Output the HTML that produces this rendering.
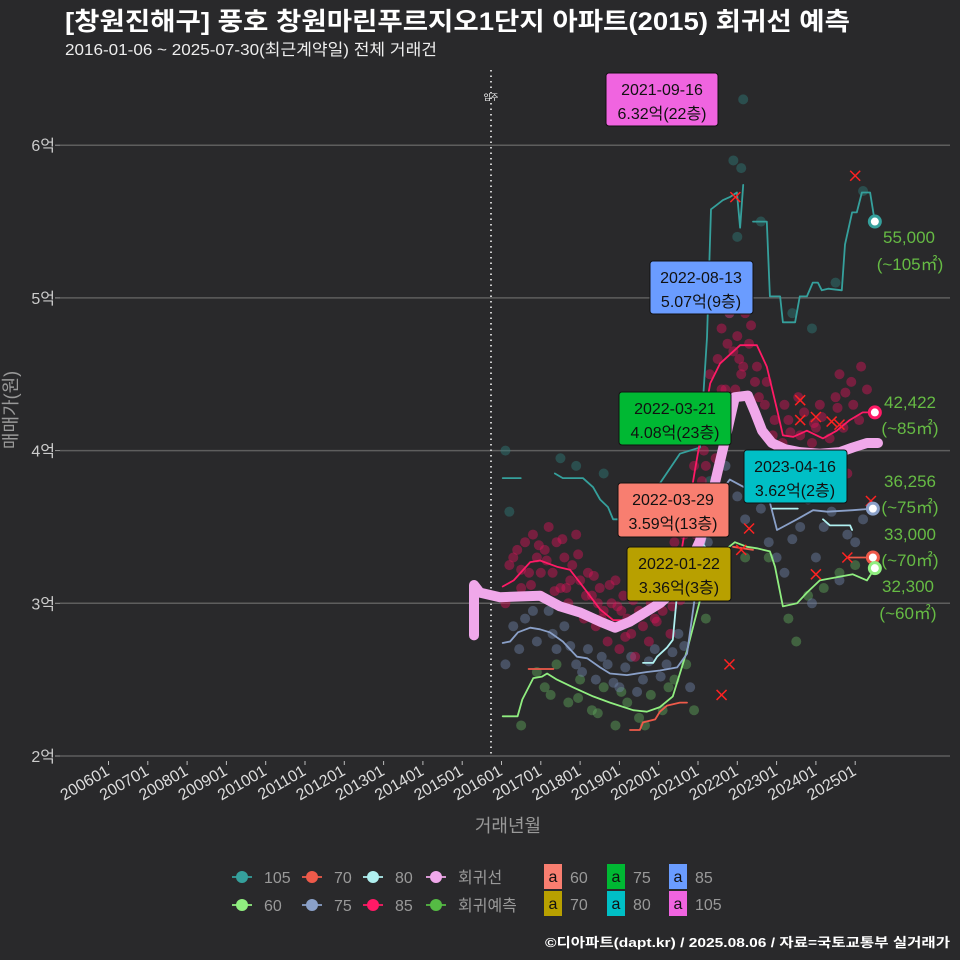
<!DOCTYPE html>
<html><head><meta charset="utf-8">
<style>
html,body{margin:0;padding:0;background:#29292b;}
svg{display:block;font-family:"Liberation Sans","Noto Sans CJK KR",sans-serif;}
</style></head>
<body>
<svg id="chart" width="960" height="960" viewBox="0 0 960 960">
<rect x="0" y="0" width="960" height="960" fill="#29292b"/>
<text x="65" y="30" fill="#ffffff" font-size="25" font-weight="bold" textLength="785" lengthAdjust="spacingAndGlyphs">[창원진해구] 풍호 창원마린푸르지오1단지 아파트(2015) 회귀선 예측</text>
<text x="65" y="55" fill="#eeeeee" font-size="16" textLength="372" lengthAdjust="spacingAndGlyphs">2016-01-06 ~ 2025-07-30(최근계약일) 전체 거래건</text>
<g id="grid"></g>
<g id="yticks"></g>
<g id="xticks"></g>
<line x1="491" y1="70" x2="491" y2="756" stroke="#cccccc" stroke-width="2" stroke-dasharray="1.5,4"/>
<text x="491" y="100" fill="#ffffff" font-size="8" text-anchor="middle">입주</text>
<g id="dots"></g>
<g id="lines"></g>
<g id="marks"></g>
<text x="17" y="410" fill="#999999" font-size="18" text-anchor="middle" transform="rotate(-90 17 410)">매매가(원)</text>
<text x="508" y="832" fill="#999999" font-size="18" text-anchor="middle">거래년월</text>

<g>
<rect x="606" y="73" width="112" height="53" rx="3" fill="#f064e0" stroke="#111"/>
<text x="662" y="95" font-size="16" text-anchor="middle" fill="#111">2021-09-16</text>
<text x="662" y="119" font-size="16" text-anchor="middle" fill="#111">6.32억(22층)</text>
</g>
<g>
<rect x="650" y="261" width="103" height="53" rx="3" fill="#6a9cff" stroke="#111"/>
<text x="701" y="283" font-size="16" text-anchor="middle" fill="#111">2022-08-13</text>
<text x="701" y="307" font-size="16" text-anchor="middle" fill="#111">5.07억(9층)</text>
</g>
<g>
<rect x="619" y="392" width="112" height="53" rx="3" fill="#00b833" stroke="#111"/>
<text x="675" y="414" font-size="16" text-anchor="middle" fill="#111">2022-03-21</text>
<text x="675" y="438" font-size="16" text-anchor="middle" fill="#111">4.08억(23층)</text>
</g>
<g>
<rect x="744" y="450" width="103" height="53" rx="3" fill="#00bfc6" stroke="#111"/>
<text x="795" y="472" font-size="16" text-anchor="middle" fill="#111">2023-04-16</text>
<text x="795" y="496" font-size="16" text-anchor="middle" fill="#111">3.62억(2층)</text>
</g>
<g>
<rect x="618" y="483" width="111" height="54" rx="3" fill="#f87e70" stroke="#111"/>
<text x="673" y="505" font-size="16" text-anchor="middle" fill="#111">2022-03-29</text>
<text x="673" y="529" font-size="16" text-anchor="middle" fill="#111">3.59억(13층)</text>
</g>
<g>
<rect x="627" y="547" width="104" height="54" rx="3" fill="#b8a000" stroke="#111"/>
<text x="679" y="569" font-size="16" text-anchor="middle" fill="#111">2022-01-22</text>
<text x="679" y="593" font-size="16" text-anchor="middle" fill="#111">3.36억(3층)</text>
</g>

<g fill="#66bb44" font-size="17" text-anchor="middle">
<text x="909" y="243">55,000</text>
<text x="910" y="270">(~105㎡)</text>
<text x="910" y="408">42,422</text>
<text x="910" y="434">(~85㎡)</text>
<text x="910" y="487">36,256</text>
<text x="910" y="513">(~75㎡)</text>
<text x="910" y="540">33,000</text>
<text x="910" y="566">(~70㎡)</text>
<text x="908" y="592">32,300</text>
<text x="908" y="619">(~60㎡)</text>
</g>

<g id="legend" font-size="16" fill="#999999"></g>

<text x="950" y="947" fill="#ffffff" font-size="13" font-weight="bold" text-anchor="end" textLength="405" lengthAdjust="spacingAndGlyphs">©디아파트(dapt.kr) / 2025.08.06 / 자료=국토교통부 실거래가</text>
</svg>
<script>
// ---- data ----
const yTickValues = [2, 3, 4, 5, 6];
const yTickLabels = ["2억", "3억", "4억", "5억", "6억"];
const xTickYears = [2006,2007,2008,2009,2010,2011,2012,2013,2014,2015,2016,2017,2018,2019,2020,2021,2022,2023,2024,2025];
const xTickLabels = ["200601","200701","200801","200901","201001","201101","201201","201301","201401","201501","201601","201701","201801","201901","202001","202101","202201","202301","202401","202501"];

const regYears = [2015.30,2015.30,2015.45,2015.96,2016.98,2017.49,2018.00,2018.51,2018.89,2019.27,2019.65,2020.03,2020.54,2021.05,2021.36,2021.69,2021.94,2022.27,2022.45,2022.63,2022.88,2023.21,2023.59,2024.10,2024.61,2024.94,2025.30,2025.58];
const regValues = [2.79,3.12,3.07,3.04,3.05,2.98,2.94,2.88,2.84,2.88,2.94,3.00,3.12,3.41,3.71,4.07,4.35,4.36,4.25,4.13,4.05,4.01,3.99,3.98,3.99,4.02,4.05,4.05];

const s85Years = [2016.03,2016.31,2016.73,2016.98,2017.41,2017.74,2018.07,2018.51,2018.84,2019.27,2019.70,2020.03,2020.54,2020.92,2021.31,2021.56,2022.07,2022.50,2022.75,2023.01,2023.16,2023.42,2023.77,2024.18,2024.53,2024.86,2025.19,2025.50];
const s85Values = [3.11,3.15,3.27,3.28,3.24,3.22,3.11,2.96,2.89,2.89,2.94,3.00,3.28,3.87,4.44,4.57,4.69,4.69,4.55,4.27,4.10,4.09,4.13,4.08,4.13,4.20,4.25,4.25];

const s75Years = [2016.03,2016.22,2016.42,2016.73,2016.98,2017.23,2017.56,2017.92,2018.18,2018.51,2018.76,2019.19,2019.70,2020.03,2020.47,2020.72,2021.05,2021.43,2021.81,2022.32,2022.83,2023.01,2023.52,2023.93,2024.29,2024.94,2025.45];
const s75Values = [2.74,2.75,2.81,2.84,2.83,2.81,2.75,2.65,2.64,2.58,2.54,2.53,2.55,2.56,2.58,2.67,3.28,3.68,3.81,3.74,3.66,3.48,3.55,3.61,3.60,3.61,3.62];

const s60Years = [2016.03,2016.41,2016.53,2016.81,2017.03,2017.16,2017.41,2017.82,2018.33,2018.76,2019.35,2019.70,2020.03,2020.36,2020.54,2020.72,2021.05,2021.43,2021.69,2021.94,2022.25,2022.50,2022.83,2022.96,2023.16,2023.52,2023.77,2024.10,2024.53,2024.94,2025.30,2025.50];
const s60Values = [2.26,2.26,2.37,2.51,2.52,2.54,2.50,2.45,2.39,2.35,2.30,2.29,2.32,2.39,2.54,2.69,3.02,3.22,3.35,3.40,3.37,3.36,3.34,3.24,2.98,3.00,3.07,3.15,3.17,3.19,3.15,3.23];

const s105Years = [2016.03,2016.49,null,2017.36,2017.56,2018.07,2018.33,2018.51,2018.71,2018.84,2019.27,2019.91,2020.54,2021.05,2021.23,2021.33,2021.48,2021.63,2021.81,2021.99,2022.07,2022.15,null,2022.40,2022.75,2022.83,2023.09,2023.16,2023.47,2023.59,2023.77,2023.92,2024.05,2024.15,2024.31,2024.66,2024.74,2024.92,2025.04,2025.17,2025.38,2025.50];
const s105Values = [3.82,3.82,null,3.85,3.82,3.82,3.76,3.68,3.63,3.55,3.55,3.74,3.98,4.02,4.74,5.58,5.61,5.64,5.66,5.69,5.46,5.74,null,5.50,5.50,5.01,5.01,4.84,4.84,5.01,5.01,5.10,5.10,5.05,5.06,5.05,5.35,5.56,5.56,5.69,5.69,5.50];

const s70Years = [2016.69,2017.32,null,2019.27,2019.52,2019.60,2019.91,2020.03,2020.21,2020.54,2020.72,null,2021.89,2022.40,null,2024.82,2025.45];
const s70Values = [2.57,2.57,null,2.17,2.17,2.22,2.24,2.29,2.33,2.35,2.35,null,3.37,3.35,null,3.30,3.30];

const s80Years = [2019.60,2019.86,2019.96,2020.21,2020.36,2020.47,2020.87,2021.05,2021.18,null,2022.90,2023.54,null,2024.18,2024.36,2024.87,2024.92];
const s80Values = [2.61,2.61,2.65,2.71,2.76,3.07,3.37,3.41,3.37,null,3.62,3.62,null,3.55,3.51,3.51,3.48];

const dot85Years = [2016.1,2016.2,2016.4,2016.5,2016.6,2016.7,2016.8,2016.9,2017.0,2017.1,2017.2,2017.3,2017.4,2017.5,2017.6,2017.7,2017.8,2017.9,2018.0,2018.1,2018.2,2018.3,2018.4,2018.5,2018.6,2018.7,2018.8,2018.9,2019.0,2019.1,2019.2,2019.3,2019.4,2019.5,2019.6,2019.7,2019.8,2019.9,2020.0,2020.1,2020.2,2020.3,2020.4,2020.5,2020.6,2020.7,2020.8,2020.9,2021.0,2021.1,2021.2,2021.3,2021.4,2021.5,2021.6,2021.7,2021.8,2021.9,2022.0,2022.1,2022.3,2022.5,2022.7,2022.9,2023.1,2023.3,2023.5,2023.7,2023.9,2024.1,2024.3,2024.5,2024.7,2024.9,2025.1,2025.3,2023.2,2024.0,2024.6,2022.2,2021.6,2020.8,2018.9,2017.0,2019.4,2020.3,2021.2,2023.6,2024.8,
 2016.3,2016.5,2016.75,2016.95,2017.15,2017.35,2017.55,2017.75,2017.95,2018.15,2018.35,2018.55,2018.75,2018.95,2019.15,2019.35,2019.55,2019.75,2019.95,2020.15,2020.35,2020.55,2020.75,2020.95,2021.15,2021.35,2021.55,2021.75,2021.95,2022.15,2022.35,2022.55,2022.75,2022.95,2023.15,2023.35,2023.55,2023.75,2023.95,2024.15,2024.35,2024.55,2024.75,2024.95,2025.15,2021.45,2021.85,2022.05,2022.45,2021.05,2020.65,2019.85,2019.05,2018.45,2017.65];
const dot85Values = [3.0,3.25,3.35,3.1,3.4,3.2,3.45,3.3,3.05,3.35,3.5,3.2,3.4,3.1,3.3,3.0,3.25,3.45,3.15,2.9,3.2,3.05,2.85,3.1,2.95,2.75,3.0,2.85,2.7,3.05,2.9,2.8,3.1,2.95,2.85,3.2,3.0,2.9,3.15,2.95,3.3,3.1,3.4,3.2,3.6,3.75,3.5,3.9,4.1,3.8,4.3,4.5,4.2,4.6,4.8,4.4,4.9,4.65,4.75,4.5,4.7,4.55,4.3,4.1,4.0,4.2,3.9,4.25,4.05,4.3,3.95,4.35,4.15,4.45,4.2,4.4,4.3,4.15,4.5,4.9,4.4,3.3,3.15,3.2,2.65,2.8,3.9,4.1,3.85,
 3.3,3.22,3.12,3.38,3.28,3.08,3.42,3.15,3.32,3.05,3.18,2.9,3.12,2.98,2.78,3.02,2.92,2.75,2.88,3.08,2.98,3.02,3.65,3.45,4.0,4.15,4.35,4.7,4.4,4.55,4.82,4.35,4.45,4.2,4.05,4.12,4.35,3.98,4.18,4.22,4.08,4.28,4.38,4.3,4.55,3.95,4.25,4.6,4.45,3.7,3.45,3.1,2.95,3.0,3.1];

const dot75Years = [2016.1,2016.3,2016.6,2016.9,2017.2,2017.4,2017.6,2017.9,2018.2,2018.4,2018.7,2019.0,2019.3,2019.6,2019.9,2020.2,2020.5,2020.8,2021.1,2021.4,2021.7,2022.0,2022.4,2022.8,2023.2,2023.6,2024.0,2024.4,2024.8,2025.2,2023.9,2024.6,2016.45,2016.8,2017.3,2017.75,2018.05,2018.55,2018.85,2019.15,2019.45,2019.75,2020.05,2020.35,2020.65,2021.25,2021.55,2022.2,2022.6,2023.0,2023.4,2023.8,2024.2,2025.0];
const dot75Values = [2.6,2.85,2.9,2.75,2.95,2.7,2.85,2.6,2.7,2.5,2.6,2.45,2.65,2.5,2.7,2.6,2.8,2.45,3.2,3.6,3.9,3.7,3.8,3.4,3.2,3.5,3.3,3.6,3.45,3.55,3.0,3.15,2.7,2.95,2.8,2.72,2.55,2.65,2.48,2.58,2.42,2.62,2.52,2.68,2.72,3.4,3.75,3.55,3.62,3.3,3.42,3.68,3.5,3.4];

const dot60Years = [2016.5,2016.9,2017.1,2017.4,2017.7,2018.0,2018.3,2018.6,2018.9,2019.2,2019.5,2019.8,2020.1,2020.4,2020.7,2020.9,2021.2,2021.6,2022.2,2022.8,2023.3,2023.8,2024.2,2024.6,2025.0,2023.5,2017.25,2017.95,2018.45,2019.05,2019.65,2020.25];
const dot60Values = [2.2,2.55,2.45,2.6,2.35,2.5,2.3,2.45,2.2,2.35,2.25,2.4,2.3,2.5,2.6,2.3,2.9,3.1,3.3,3.3,2.9,3.05,3.1,3.2,3.25,2.75,2.4,2.38,2.28,2.42,2.2,2.45];

const dot105Years = [2016.1,2016.2,2017.5,2017.9,2018.6,2020.0,2021.3,2021.8,2021.9,2022.0,2021.9,2022.1,2022.15,2022.6,2023.4,2023.9,2024.5,2025.2];
const dot105Values = [4.0,3.6,3.95,3.9,3.85,3.7,3.8,4.9,5.2,5.4,5.9,5.85,6.3,5.5,4.9,4.8,5.1,5.7];

const crossYears = [2021.95,2025.0,2023.6,2023.6,2024.0,2024.4,2024.6,2022.3,2022.1,2024.0,2024.8,2025.4,2021.8,2021.6];
const crossValues = [5.66,5.8,4.33,4.2,4.22,4.19,4.17,3.49,3.35,3.19,3.3,3.67,2.6,2.4];

// ---- scales ----
function X(year){ return 108.5 + (year - 2006) * 39.3; }
function Y(v){ return 756 - (v - 2) * 152.7; }
const NS = "http://www.w3.org/2000/svg";
function mk(tag, attrs, parent){
  const el = document.createElementNS(NS, tag);
  for (const k in attrs) el.setAttribute(k, attrs[k]);
  parent.appendChild(el);
  return el;
}

const grid = document.getElementById('grid');
const yt = document.getElementById('yticks');
yTickValues.forEach((v, i) => {
  const ln = mk('line', {x1: 60, x2: 950, y1: Y(v), y2: Y(v), stroke: '#5e5e5e', 'stroke-width': 1.5}, grid);
  
  
  const tk = mk('line', {x1: 55, x2: 60, y1: Y(v), y2: Y(v), stroke: '#999', 'stroke-width': 1}, yt);
  
  
  const t = mk('text', {x: 55, y: Y(v) + 6, fill: '#cccccc', 'font-size': 16, 'text-anchor': 'end'}, yt);
  t.textContent = yTickLabels[i];
  
  
});

const xt = document.getElementById('xticks');
xTickYears.forEach((yr, i) => {
  const x = X(yr);
  const tk = mk('line', {x1: x, x2: x, y1: 761, y2: 765, stroke: '#bbbbbb', 'stroke-width': 1}, xt);
  
  
  const t = mk('text', {x: x + 2, y: 774, fill: '#dddddd', 'font-size': 16, 'text-anchor': 'end', transform: 'rotate(-30 ' + (x + 2) + ' 774)'}, xt);
  t.textContent = xTickLabels[i];
  
  
});

const dotsG = document.getElementById('dots');
function drawDots(years, vals, color, name){
  years.forEach((yr, i) => {
    const c = mk('circle', {cx: X(yr), cy: Y(vals[i]), r: 5, fill: color, 'fill-opacity': 0.45}, dotsG);
    
    
  });
}
drawDots(dot105Years, dot105Values, '#2e7d7a', 'dot-105');
drawDots(dot60Years, dot60Values, '#5fa85a', 'dot-60');
drawDots(dot75Years, dot75Values, '#6e82a8', 'dot-75');
drawDots(dot85Years, dot85Values, '#d81459', 'dot-85');

const linesG = document.getElementById('lines');
function pathD(years, vals){
  let d = '', pen = false;
  years.forEach((yr, i) => {
    if (yr === null || vals[i] === null) { pen = false; return; }
    d += (pen ? 'L' : 'M') + X(yr).toFixed(1) + ',' + Y(vals[i]).toFixed(1);
    pen = true;
  });
  return d;
}
function drawLine(years, vals, color, w, name){
  const p = mk('path', {d: pathD(years, vals), fill: 'none', stroke: color, 'stroke-width': w, 'stroke-linejoin': 'round', 'stroke-linecap': 'round'}, linesG);
  
  
}
drawLine(s105Years, s105Values, '#35a09c', 1.8, 'line-105');
drawLine(s60Years, s60Values, '#90ee80', 1.8, 'line-60');
drawLine(s75Years, s75Values, '#8aa0c8', 1.8, 'line-75');
drawLine(s70Years, s70Values, '#ee5a4a', 1.8, 'line-70');
drawLine(s80Years, s80Values, '#b0f0f0', 1.8, 'line-80');
drawLine(s85Years, s85Values, '#ff1a66', 1.8, 'line-85');
drawLine(regYears, regValues, '#f0a8ea', 10, 'regression-line');

const marks = document.getElementById('marks');
crossYears.forEach((yr, i) => {
  const x = X(yr), y = Y(crossValues[i]);
  const p = mk('path', {d: `M${x-5},${y-5}L${x+5},${y+5}M${x-5},${y+5}L${x+5},${y-5}`, stroke: '#ff2222', 'stroke-width': 1.5}, marks);
  
  
});

function endPt(years, vals, color, name){
  let i = years.length - 1;
  const c = mk('circle', {cx: X(years[i]), cy: Y(vals[i]), r: 5.5, fill: '#ffffff', stroke: color, 'stroke-width': 3}, marks);
  
  
}
endPt(s105Years, s105Values, '#35a09c', 'endpoint-105');
endPt(s85Years, s85Values, '#ff1a66', 'endpoint-85');
endPt(s75Years, s75Values, '#8aa0c8', 'endpoint-75');
endPt(s70Years, s70Values, '#ee5a4a', 'endpoint-70');
endPt(s60Years, s60Values, '#90ee80', 'endpoint-60');

const lg = document.getElementById('legend');
const legItems = [
  [242, 877, '#35a09c', '105'], [312, 877, '#ee5a4a', '70'], [373, 877, '#b0f0f0', '80'], [436, 877, '#f0a8ea', '회귀선'],
  [242, 905, '#90ee80', '60'], [312, 905, '#8aa0c8', '75'], [373, 905, '#ff1a66', '85'], [436, 905, '#55bb44', '회귀예측']
];
legItems.forEach(it => {
  const g = mk('g', {}, lg);
  
  
  mk('line', {x1: it[0] - 10, x2: it[0] + 10, y1: it[1], y2: it[1], stroke: it[2], 'stroke-width': 1.8}, g);
  mk('circle', {cx: it[0], cy: it[1], r: 6, fill: it[2]}, g);
  const t = mk('text', {x: it[0] + 22, y: it[1] + 6, fill: '#999999', 'font-size': 16}, g);
  t.textContent = it[3];
});
const boxItems = [
  [553, 866, '#f87e70', '60'], [616, 866, '#00b833', '75'], [678, 866, '#6a9cff', '85'],
  [553, 893, '#b8a000', '70'], [616, 893, '#00bfc6', '80'], [678, 893, '#f064e0', '105']
];
boxItems.forEach(it => {
  const g = mk('g', {}, lg);
  
  
  mk('rect', {x: it[0] - 9, y: it[1] - 2, width: 18, height: 25, fill: it[2]}, g);
  const a = mk('text', {x: it[0], y: it[1] + 16, fill: '#111', 'font-size': 16, 'text-anchor': 'middle'}, g);
  a.textContent = 'a';
  const t = mk('text', {x: it[0] + 17, y: it[1] + 17, fill: '#999999', 'font-size': 16}, g);
  t.textContent = it[3];
});
</script>
</body></html>
